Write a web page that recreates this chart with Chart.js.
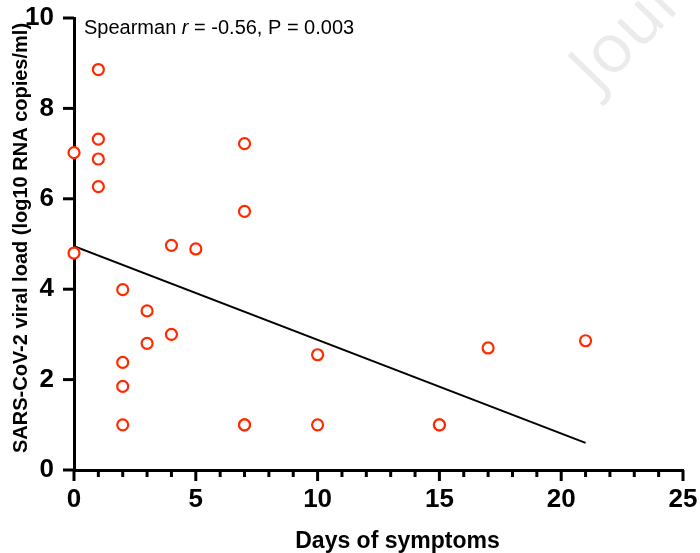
<!DOCTYPE html>
<html lang="en">
<head>
    <meta charset="UTF-8">
    <title>Viral load vs days of symptoms</title>
    <style>
        body {
            margin: 0;
            background-color: #ffffff;
        }
        .chart-box {
            width: 700px;
            height: 553px;
            position: relative;
        }
    </style>
</head>
<body>
    <div class="chart-box">
        <canvas id="loadChart" width="700" height="553"></canvas>
    </div>

    <script src="https://cdn.jsdelivr.net/npm/chart.js"></script>
    <script>
        // days since symptom onset and viral load (log10 copies/ml)
        const days = [0, 0, 1, 1, 1, 1, 2, 2, 2, 2, 3, 3, 4, 4, 5, 7, 7, 7, 7, 10, 10, 15, 15, 17, 21];
        const viralLoad = [7.02, 4.80, 8.86, 7.32, 6.88, 6.27, 3.99, 2.38, 1.85, 1.00, 3.52, 2.80, 4.97, 3.00, 4.89, 7.22, 5.72, 1.00, 1.00, 2.55, 1.00, 1.00, 1.00, 2.70, 2.86];

        // fitted line end points
        const fitX = [0, 21];
        const fitY = [4.95, 0.60];

        const xTicks = [0, 5, 10, 15, 20, 25];
        const yTicks = [0, 2, 4, 6, 8, 10];

        const xTitle = "Days of symptoms";
        const yTitle = "SARS-CoV-2 viral load (log10 RNA copies/ml)";
        const statText = ["Spearman ", "r", " = -0.56, P = 0.003"];

        const sans = "'Liberation Sans', Arial, sans-serif";

        // tick marks, axis titles, stats text and watermark
        const decorations = {
            id: "decorations",
            afterDraw(chart) {
                const ctx = chart.ctx;
                const xs = chart.scales.x, ys = chart.scales.y;
                const area = chart.chartArea;
                ctx.save();
                ctx.strokeStyle = "#000";
                ctx.lineWidth = 3;
                for (let v = xs.min; v <= xs.max; v++) {
                    const px = xs.getPixelForValue(v);
                    const len = xTicks.includes(v) ? 11 : 7;
                    ctx.beginPath();
                    ctx.moveTo(px, area.bottom);
                    ctx.lineTo(px, area.bottom + len);
                    ctx.stroke();
                }
                yTicks.forEach(v => {
                    const py = ys.getPixelForValue(v);
                    ctx.beginPath();
                    ctx.moveTo(area.left, py);
                    ctx.lineTo(area.left - 11, py);
                    ctx.stroke();
                });

                // axis titles (sit a little off-centre in the original)
                ctx.fillStyle = "#000";
                ctx.textAlign = "center";
                ctx.textBaseline = "alphabetic";
                ctx.font = "bold 23px " + sans;
                ctx.fillText(xTitle, (area.left + area.right) / 2 + 19, 548);

                ctx.save();
                ctx.translate(27, (area.top + area.bottom) / 2 - 6);
                ctx.rotate(-Math.PI / 2);
                ctx.font = "bold 20px " + sans;
                ctx.fillText(yTitle, 0, 0);
                ctx.restore();

                // stats annotation
                ctx.textAlign = "left";
                ctx.textBaseline = "middle";
                let x = area.left + 10;
                const y = area.top + 10;
                statText.forEach((t, i) => {
                    ctx.font = (i === 1 ? "italic " : "") + "20px " + sans;
                    ctx.fillText(t, x, y);
                    x += ctx.measureText(t).width;
                });

                // faint watermark
                ctx.translate(598, 94);
                ctx.rotate(-0.8);
                ctx.fillStyle = "rgba(0,0,0,0.08)";
                ctx.font = "68px 'Open Sans', 'Liberation Sans', sans-serif";
                ctx.textBaseline = "alphabetic";
                ctx.fillText("Journal", 0, 0);
                ctx.restore();
            }
        };

        const ctx = document.getElementById("loadChart").getContext("2d");
        new Chart(ctx, {
            type: "scatter",
            data: {
                datasets: [{
                    label: "Patients",
                    data: days.map((d, i) => ({ x: d, y: viralLoad[i] })),
                    pointStyle: "circle",
                    pointRadius: 5.5,
                    pointBorderWidth: 2.2,
                    borderColor: "#ff2a00",
                    backgroundColor: "#ffffff",
                    clip: false
                }, {
                    label: "Fit",
                    type: "line",
                    data: fitX.map((d, i) => ({ x: d, y: fitY[i] })),
                    borderColor: "#000",
                    borderWidth: 2,
                    pointRadius: 0,
                    fill: false
                }]
            },
            options: {
                responsive: false,
                animation: false,
                layout: { padding: { top: 18, right: 17, left: 0, bottom: 0 } },
                plugins: {
                    legend: { display: false },
                    tooltip: { enabled: false }
                },
                scales: {
                    x: {
                        type: "linear",
                        min: 0,
                        max: 25,
                        afterFit: s => { s.height = 83; s.paddingLeft = 0; s.paddingRight = 0; },
                        afterBuildTicks: s => { s.ticks = xTicks.map(v => ({ value: v })); },
                        grid: { display: false },
                        border: { display: true, color: "#000", width: 3 },
                        ticks: {
                            color: "#000",
                            padding: 6,
                            font: { family: sans, size: 26, weight: "bold" },
                            maxRotation: 0
                        }
                    },
                    y: {
                        type: "linear",
                        min: 0,
                        max: 10,
                        afterFit: s => { s.width = 74; s.paddingTop = 0; s.paddingBottom = 0; },
                        afterBuildTicks: s => { s.ticks = yTicks.map(v => ({ value: v })); },
                        grid: { display: false },
                        border: { display: true, color: "#000", width: 3 },
                        ticks: {
                            color: "#000",
                            padding: 12,
                            font: { family: sans, size: 26, weight: "bold" }
                        }
                    }
                }
            },
            plugins: [decorations]
        });
    </script>
</body>
</html>
